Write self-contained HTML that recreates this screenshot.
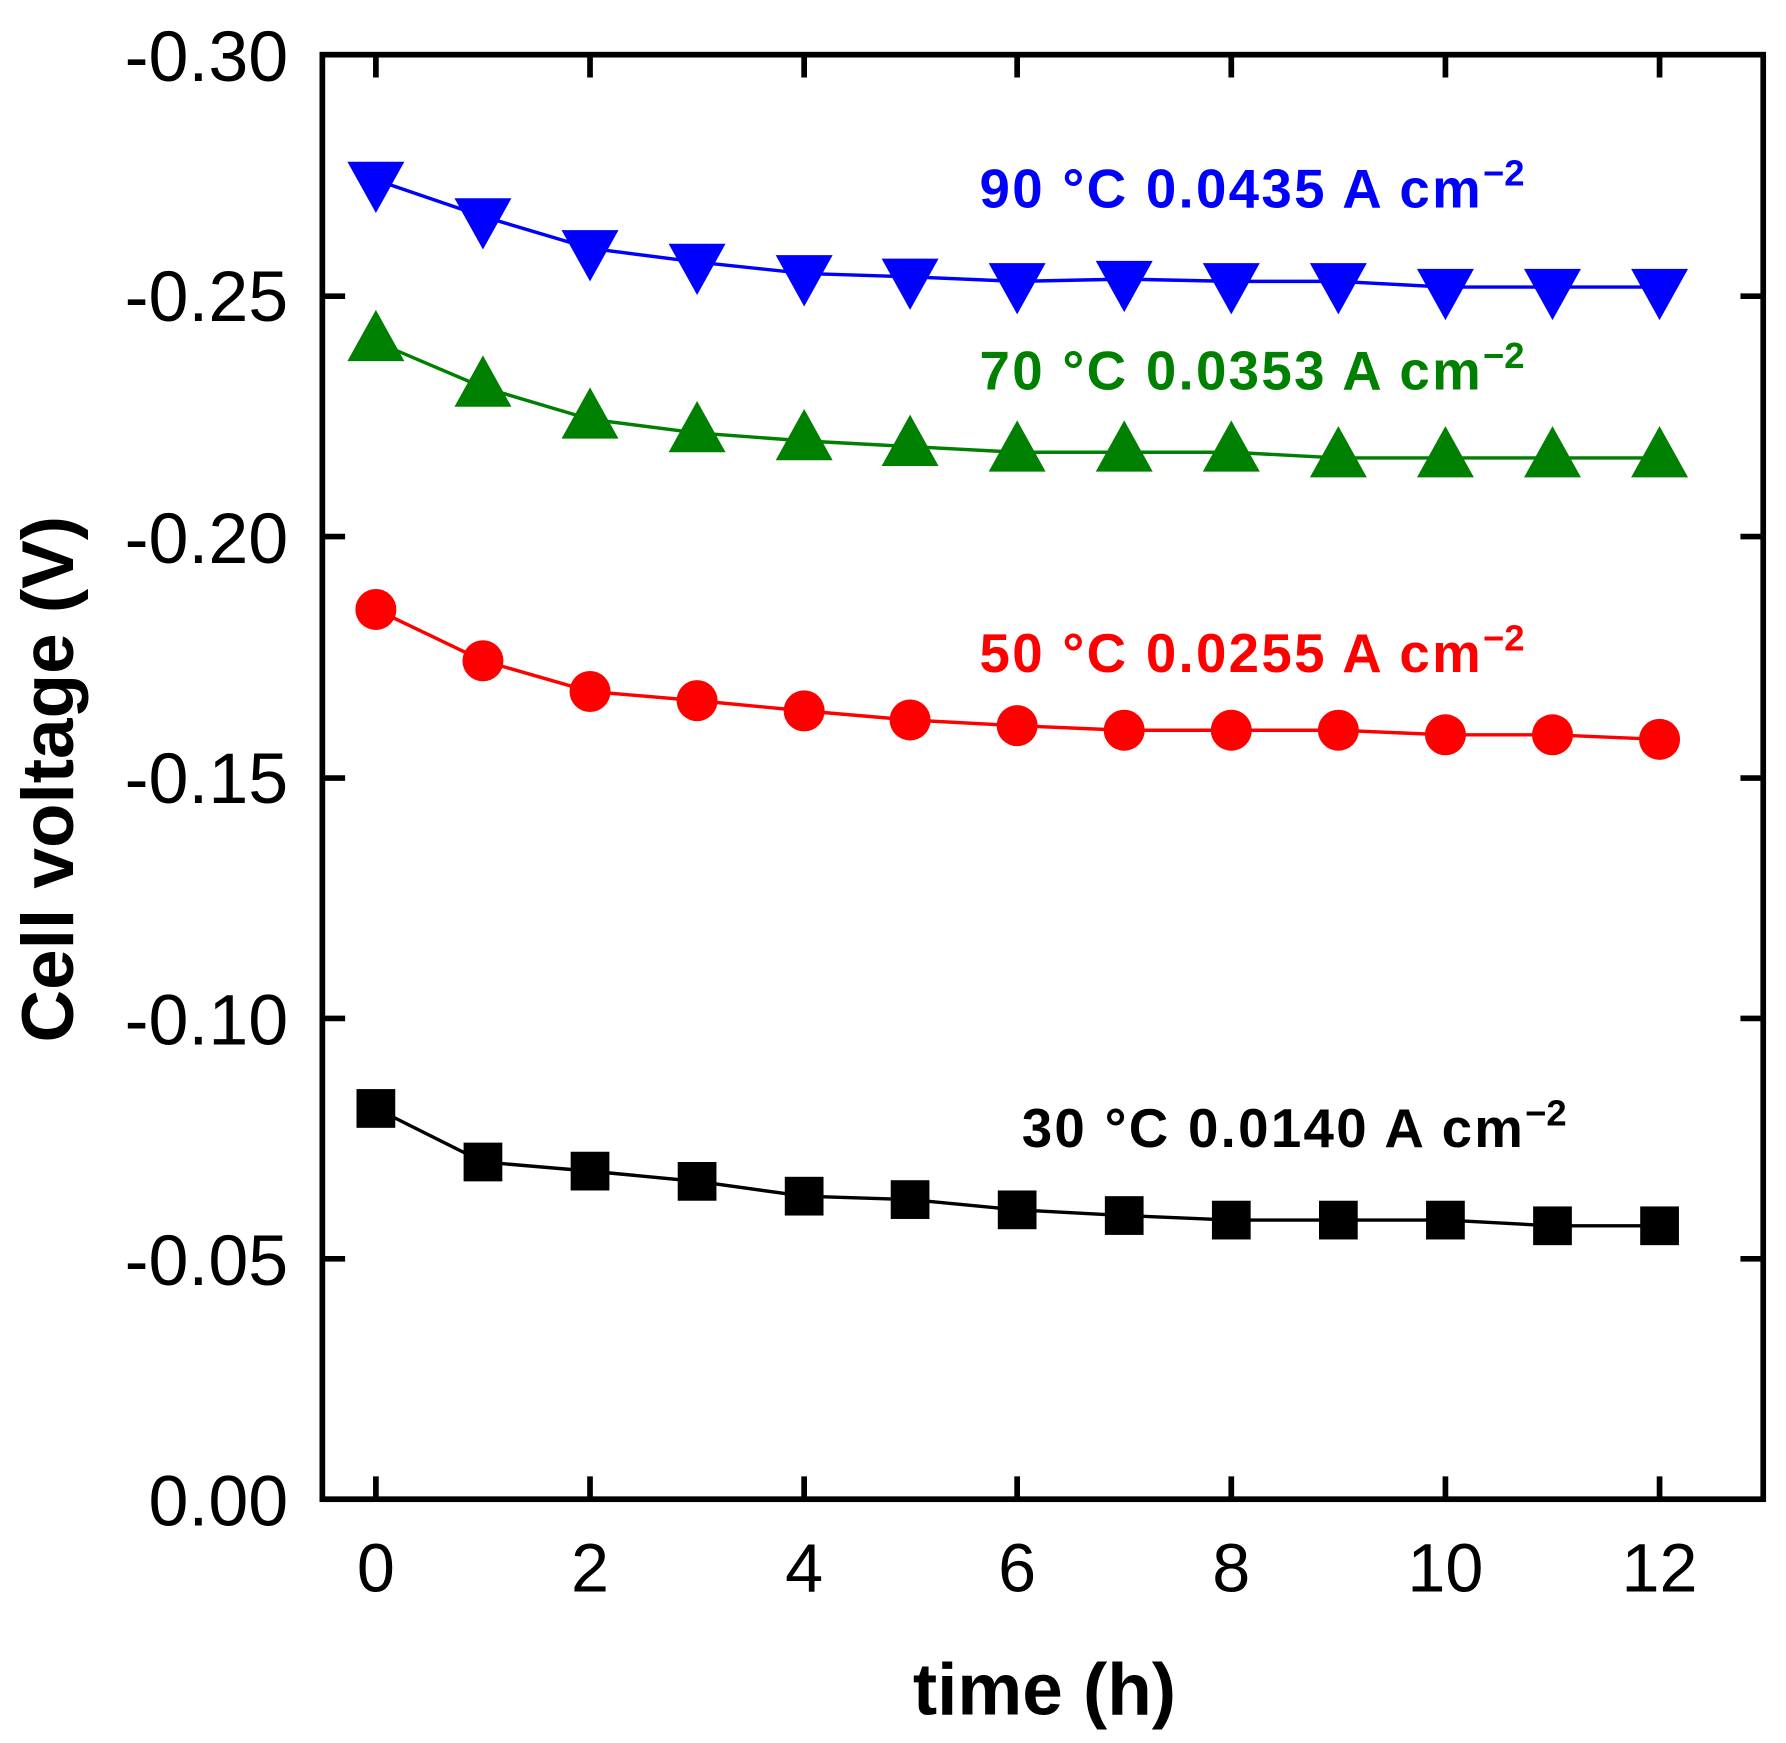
<!DOCTYPE html>
<html><head><meta charset="utf-8"><style>html,body{margin:0;padding:0;background:#fff}svg{display:block}</style></head>
<body>
<svg width="1786" height="1743" viewBox="0 0 1568 1530" preserveAspectRatio="none" xmlns="http://www.w3.org/2000/svg" font-family="Liberation Sans, Arial, sans-serif">
<rect width="1568" height="1530" fill="#fff"/>
<g stroke="#000" stroke-width="5" fill="none">
<rect x="283" y="48" width="1265" height="1268"/>
<path d="M283 260h20M283 471h20M283 683h20M283 894h20M283 1105h20M1548 260h-20M1548 471h-20M1548 683h-20M1548 894h-20M1548 1105h-20M330 1316v-20M518 1316v-20M706 1316v-20M893 1316v-20M1081 1316v-20M1269 1316v-20M1457 1316v-20M330 48v20M518 48v20M706 48v20M893 48v20M1081 48v20M1269 48v20M1457 48v20"/>
</g>
<g font-size="63" text-anchor="end" fill="#000">
<text x="253" y="71">-0.30</text><text x="253" y="282">-0.25</text><text x="253" y="494">-0.20</text><text x="253" y="705">-0.15</text><text x="253" y="917">-0.10</text><text x="253" y="1128">-0.05</text><text x="253" y="1339">0.00</text>
</g>
<g font-size="60" text-anchor="middle" fill="#000">
<text x="330" y="1397">0</text><text x="518" y="1397">2</text><text x="706" y="1397">4</text><text x="893" y="1397">6</text><text x="1081" y="1397">8</text><text x="1269" y="1397">10</text><text x="1457" y="1397">12</text>
</g>
<text x="917" y="1505" font-size="64" font-weight="bold" text-anchor="middle">time (h)</text>
<text transform="translate(64,684) rotate(-90)" font-size="64" font-weight="bold" text-anchor="middle">Cell voltage (V)</text>
<g font-size="48" font-weight="bold">
<text x="860" y="182" fill="#0000ff" textLength="440">90 °C 0.0435 A cm</text><text x="1302" y="163" font-size="32" font-weight="bold" fill="#0000ff">−2</text>
<text x="860" y="342" fill="#008000" textLength="440">70 °C 0.0353 A cm</text><text x="1302" y="323" font-size="32" font-weight="bold" fill="#008000">−2</text>
<text x="860" y="590" fill="#ff0000" textLength="440">50 °C 0.0255 A cm</text><text x="1302" y="571" font-size="32" font-weight="bold" fill="#ff0000">−2</text>
<text x="897" y="1007" fill="#000" textLength="440">30 °C 0.0140 A cm</text><text x="1339" y="988" font-size="32" font-weight="bold" fill="#000">−2</text>
</g>
<g fill="none" stroke-width="3">
<polyline stroke="#0000ff" points="330,158 424,190 518,218 612,230 706,240 799,243 893,247 987,245 1081,247 1175,247 1269,252 1363,252 1457,252"/>
<polyline stroke="#008000" points="330,300 424,340 518,368 612,380 706,387 799,392 893,397 987,397 1081,397 1175,402 1269,402 1363,402 1457,402"/>
<polyline stroke="#ff0000" points="330,535 424,580 518,607 612,615 706,624 799,632 893,637 987,641 1081,641 1175,641 1269,645 1363,645 1457,649"/>
<polyline stroke="#000" points="330,973 424,1020 518,1028 612,1037 706,1050 799,1053 893,1062 987,1067 1081,1071 1175,1071 1269,1071 1363,1076 1457,1076"/>
</g>
<g fill="#0000ff">
<polygon points="305,142 355,142 330,187"/><polygon points="399,174 449,174 424,219"/><polygon points="493,202 543,202 518,247"/><polygon points="587,214 637,214 612,259"/><polygon points="681,224 731,224 706,269"/><polygon points="774,227 824,227 799,272"/><polygon points="868,231 918,231 893,276"/><polygon points="962,229 1012,229 987,274"/><polygon points="1056,231 1106,231 1081,276"/><polygon points="1150,231 1200,231 1175,276"/><polygon points="1244,236 1294,236 1269,281"/><polygon points="1338,236 1388,236 1363,281"/><polygon points="1432,236 1482,236 1457,281"/>
</g>
<g fill="#008000">
<polygon points="305,317 355,317 330,272"/><polygon points="399,357 449,357 424,312"/><polygon points="493,385 543,385 518,340"/><polygon points="587,397 637,397 612,352"/><polygon points="681,404 731,404 706,359"/><polygon points="774,409 824,409 799,364"/><polygon points="868,414 918,414 893,369"/><polygon points="962,414 1012,414 987,369"/><polygon points="1056,414 1106,414 1081,369"/><polygon points="1150,419 1200,419 1175,374"/><polygon points="1244,419 1294,419 1269,374"/><polygon points="1338,419 1388,419 1363,374"/><polygon points="1432,419 1482,419 1457,374"/>
</g>
<g fill="#ff0000">
<circle cx="330" cy="535" r="18"/><circle cx="424" cy="580" r="18"/><circle cx="518" cy="607" r="18"/><circle cx="612" cy="615" r="18"/><circle cx="706" cy="624" r="18"/><circle cx="799" cy="632" r="18"/><circle cx="893" cy="637" r="18"/><circle cx="987" cy="641" r="18"/><circle cx="1081" cy="641" r="18"/><circle cx="1175" cy="641" r="18"/><circle cx="1269" cy="645" r="18"/><circle cx="1363" cy="645" r="18"/><circle cx="1457" cy="649" r="18"/>
</g>
<g fill="#000">
<rect x="313" y="956" width="34" height="34"/><rect x="407" y="1003" width="34" height="34"/><rect x="501" y="1011" width="34" height="34"/><rect x="595" y="1020" width="34" height="34"/><rect x="689" y="1033" width="34" height="34"/><rect x="782" y="1036" width="34" height="34"/><rect x="876" y="1045" width="34" height="34"/><rect x="970" y="1050" width="34" height="34"/><rect x="1064" y="1054" width="34" height="34"/><rect x="1158" y="1054" width="34" height="34"/><rect x="1252" y="1054" width="34" height="34"/><rect x="1346" y="1059" width="34" height="34"/><rect x="1440" y="1059" width="34" height="34"/>
</g>
</svg>
</body></html>
